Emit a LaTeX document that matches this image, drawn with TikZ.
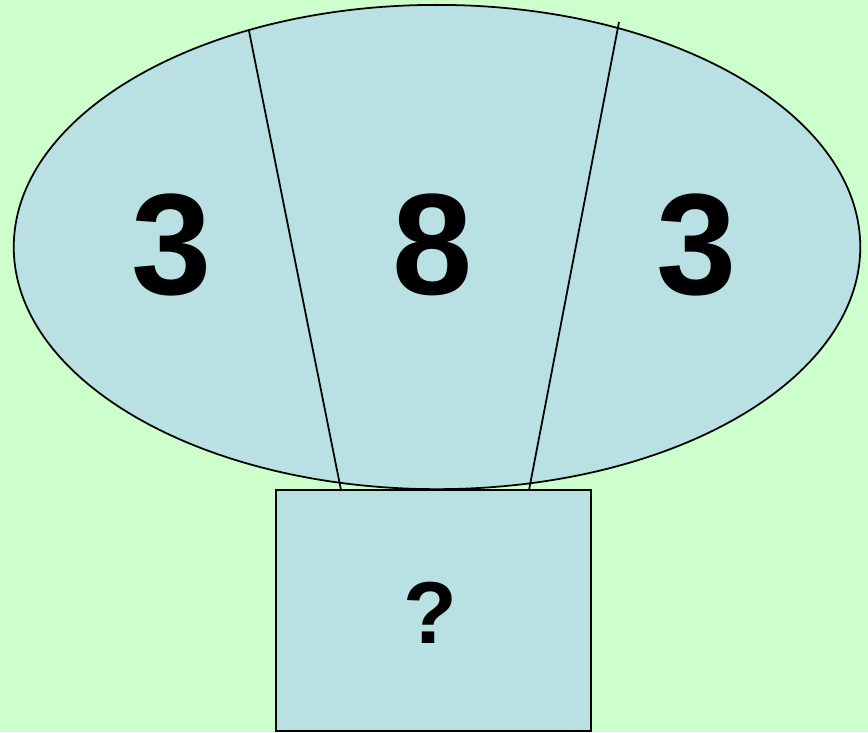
\documentclass[tikz,border=0pt]{standalone}
\usepackage{xcolor}
\usepackage{fontspec}
\setmainfont{Liberation Sans}
\usepackage{tikz}
\usetikzlibrary{positioning, shapes.geometric}
\definecolor{bgmint}{HTML}{CCFFCC}
\definecolor{paleblue}{HTML}{B9E0E3}
\tikzset{
  piece/.style={fill=paleblue, draw=black, line width=0.5pt, inner sep=0pt},
  bignum/.style={font=\fontsize{41}{49}\selectfont\bfseries},
}

\begin{document}
\begin{tikzpicture}[x=0.01cm, y=-0.01cm]
				\fill[bgmint] (0,0) rectangle (868,732);
				\useasboundingbox (0,0) rectangle (868,732);
				\node[piece, ellipse, minimum width=8.46cm, minimum height=4.84cm] (oval) at (437,247) {};
				\node[piece, rectangle, minimum width=3.15cm, minimum height=2.41cm] (box) at (433.5,610.5) {};
				\coordinate (lefttop) at (249,31);
				\coordinate (righttop) at (619,22);
				\coordinate (leftfoot) at (341,490);
				\coordinate (rightfoot) at (529,490);
				\draw[line width=0.5pt] (lefttop) -- (leftfoot);
				\draw[line width=0.5pt] (righttop) -- (rightfoot);
				\node[bignum] (numleft) at (172,245) {3};
				\node[bignum] (nummid) at (433,245) {8};
				\node[bignum] (numright) at (697,245) {3};
				\node[font=\fontsize{25}{30}\selectfont\bfseries] (ask) at (430,613) {?};
			\end{tikzpicture}
\end{document}
